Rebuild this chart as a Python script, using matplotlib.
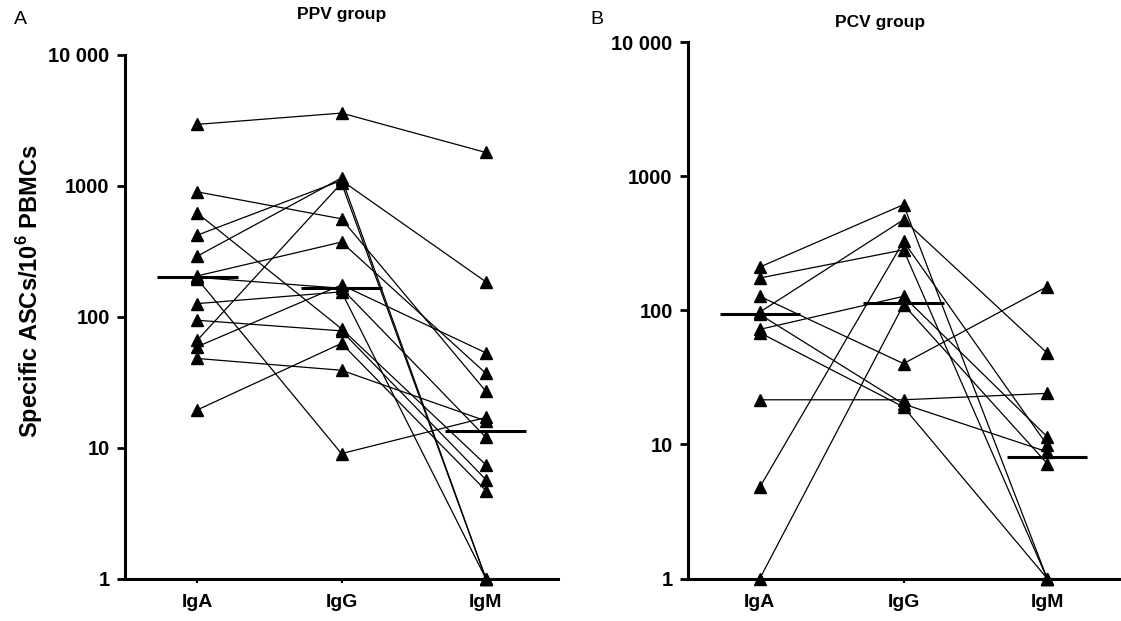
import matplotlib
matplotlib.use('Agg')
import matplotlib.pyplot as plt

plt.rcParams['font.family'] = ['Liberation Sans', 'DejaVu Sans']
plt.rcParams['mathtext.fontset'] = 'custom'
plt.rcParams['mathtext.bf'] = 'Liberation Sans:bold'
plt.rcParams['mathtext.rm'] = 'Liberation Sans:bold'

categories = ['IgA', 'IgG', 'IgM']
ytick_values = [1, 10, 100, 1000, 10000]
ytick_labels = ['1', '10', '100', '1000', '10 000']

# PPV group: one entry per subject
ppv_iga = [2950, 900, 620, 420, 290, 205, 200, 195, 126, 94, 66, 59, 48, 19.4]
ppv_igg = [3600, 560, 81, 1100, 1150, 372, 165, 9, 155, 78, 1050, 175, 39, 62.6]
ppv_igm = [1800, 27, 7.4, 185, 1, 37, 12, 17, 1, 5.7, 1, 53, 16, 4.7]
ppv_median = [200, 165, 13.5]

# PCV group
pcv_iga = [210, 174, 127, 97, 93, 72, 68, 21.5, 4.8, 1]
pcv_igg = [613, 282, 40, 473, 20, 127, 19, 21.5, 326, 110]
pcv_igm = [1, 1, 150, 48, 8.8, 11.4, 1, 24, 9.9, 7.2]
pcv_median = [93, 113, 8.1]


def draw_panel(ax, iga, igg, igm, medians):
    xs = [0.5, 1.5, 2.5]
    for a, g, m in zip(iga, igg, igm):
        ax.plot(xs, [a, g, m], color='black', lw=0.9, marker='^', ms=8,
                clip_on=False, zorder=3)
    for x, med in zip(xs, medians):
        ax.plot([x - 0.28, x + 0.28], [med, med], color='black', lw=2.2,
                solid_capstyle='butt', zorder=4)
    ax.set_yscale('log')
    ax.set_ylim(1, 10000)
    ax.set_xlim(0, 3)
    ax.set_yticks(ytick_values)
    ax.set_yticklabels(ytick_labels)
    ax.minorticks_off()
    ax.set_xticks(xs)
    ax.set_xticklabels(categories)
    for side in ['top', 'right']:
        ax.spines[side].set_visible(False)
    for side in ['left', 'bottom']:
        ax.spines[side].set_linewidth(2.2)
    ax.tick_params(axis='y', length=6, width=2, pad=5, labelsize=14.5)
    ax.tick_params(axis='x', length=3, width=1.5, pad=8, labelsize=14)
    for lab in ax.get_xticklabels() + ax.get_yticklabels():
        lab.set_fontweight('bold')


fig = plt.figure(figsize=(11.21, 6.21), dpi=100)
ax_a = fig.add_axes([125 / 1121, 42.5 / 621, 433 / 1121, 523.5 / 621])
ax_b = fig.add_axes([688 / 1121, 42.5 / 621, 431 / 1121, 536.5 / 621])

draw_panel(ax_a, ppv_iga, ppv_igg, ppv_igm, ppv_median)
draw_panel(ax_b, pcv_iga, pcv_igg, pcv_igm, pcv_median)

fig.text(342 / 1121, 1 - 14 / 621, 'PPV group', fontsize=12.5,
         fontweight='bold', ha='center', va='center')
fig.text(880 / 1121, 1 - 22 / 621, 'PCV group', fontsize=12.5,
         fontweight='bold', ha='center', va='center')
fig.text(20 / 1121, 1 - 20 / 621, 'A', fontsize=14, ha='center', va='center')
fig.text(597 / 1121, 1 - 20 / 621, 'B', fontsize=14, ha='center', va='center')
fig.text(30 / 1121, 1 - 291 / 621, r'Specific ASCs/10$^{\mathbf{6}}$ PBMCs',
         rotation=90, fontsize=17, fontweight='bold', ha='center', va='center')

fig.savefig('out.png', dpi=100)
